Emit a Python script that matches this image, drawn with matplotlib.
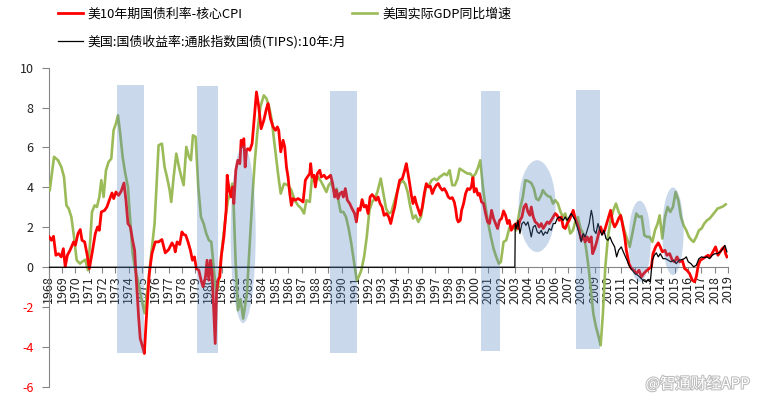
import matplotlib
matplotlib.use('Agg')
from matplotlib import pyplot as plt
from matplotlib.patches import Rectangle, Ellipse
from matplotlib.lines import Line2D
import matplotlib.patheffects as pe

plt.rcParams['font.family'] = ['Noto Sans CJK SC', 'DejaVu Sans']

# 美10年期国债利率-核心CPI
red_years = [1968.04, 1968.2, 1968.36, 1968.54, 1968.74, 1968.94, 1969.1, 1969.24, 1969.4, 1969.6,
             1969.87, 1970.0, 1970.2, 1970.37, 1970.5, 1970.7, 1970.87, 1971.05, 1971.25, 1971.5,
             1971.67, 1971.8, 1971.95, 1972.2, 1972.37, 1972.55, 1972.75, 1972.88, 1973.05, 1973.25,
             1973.45, 1973.65, 1973.8, 1973.95, 1974.13, 1974.3, 1974.45, 1974.55, 1974.75, 1974.87,
             1975.05, 1975.18, 1975.38, 1975.55, 1975.75, 1976.0, 1976.25, 1976.5, 1976.75, 1977.0,
             1977.26, 1977.43, 1977.5, 1977.64, 1977.84, 1978.0, 1978.12, 1978.29, 1978.46, 1978.64,
             1978.79, 1978.94, 1979.09, 1979.27, 1979.44, 1979.59, 1979.77, 1979.89, 1980.02, 1980.15,
             1980.27, 1980.4, 1980.5, 1980.6, 1980.7, 1980.85, 1980.95, 1981.15, 1981.32, 1981.4,
             1981.55, 1981.7, 1981.8, 1981.9, 1982.05, 1982.2, 1982.35, 1982.45, 1982.55, 1982.65,
             1982.75, 1982.85, 1982.95, 1983.1, 1983.27, 1983.4, 1983.6, 1983.77, 1983.95, 1984.15,
             1984.35, 1984.47, 1984.65, 1984.85, 1985.03, 1985.17, 1985.27, 1985.42, 1985.6, 1985.72,
             1985.85, 1985.97, 1986.1, 1986.22, 1986.35, 1986.52, 1986.72, 1986.92, 1987.1, 1987.27,
             1987.42, 1987.6, 1987.67, 1987.77, 1987.92, 1988.02, 1988.17, 1988.35, 1988.47, 1988.67,
             1988.85, 1989.02, 1989.17, 1989.32, 1989.47, 1989.6, 1989.72, 1989.87, 1990.02, 1990.12,
             1990.27, 1990.42, 1990.6, 1990.77, 1990.97, 1991.1, 1991.23, 1991.38, 1991.53, 1991.68,
             1991.83, 1991.98, 1992.13, 1992.28, 1992.43, 1992.58, 1992.73, 1992.88, 1993.03, 1993.18,
             1993.35, 1993.53, 1993.68, 1993.85, 1993.98, 1994.15, 1994.35, 1994.55, 1994.73, 1994.85,
             1994.98, 1995.1, 1995.23, 1995.35, 1995.48, 1995.6, 1995.73, 1995.9, 1996.05, 1996.2,
             1996.35, 1996.5, 1996.65, 1996.8, 1996.95, 1997.1, 1997.25, 1997.4, 1997.55, 1997.7,
             1997.85, 1998.0, 1998.15, 1998.3, 1998.45, 1998.55, 1998.65, 1998.75, 1998.9, 1999.0,
             1999.15, 1999.3, 1999.45, 1999.6, 1999.73, 1999.85, 1999.95, 2000.1, 2000.23, 2000.35,
             2000.5, 2000.65, 2000.8, 2000.95, 2001.1, 2001.25, 2001.4, 2001.55, 2001.7, 2001.85,
             2002.0, 2002.15, 2002.3, 2002.45, 2002.58, 2002.73, 2002.93, 2003.1, 2003.23, 2003.38,
             2003.53, 2003.68, 2003.83, 2003.98, 2004.13, 2004.23, 2004.38, 2004.53, 2004.68, 2004.83,
             2004.98, 2005.13, 2005.28, 2005.43, 2005.58, 2005.73, 2005.88, 2006.03, 2006.18, 2006.33,
             2006.48, 2006.63, 2006.78, 2006.93, 2007.08, 2007.23, 2007.38, 2007.53, 2007.68, 2007.83,
             2007.98, 2008.13, 2008.28, 2008.43, 2008.58, 2008.73, 2008.84, 2008.99, 2009.14, 2009.29,
             2009.44, 2009.59, 2009.74, 2009.89, 2010.04, 2010.19, 2010.34, 2010.49, 2010.64, 2010.79,
             2010.94, 2011.07, 2011.25, 2011.37, 2011.57, 2011.75, 2011.92, 2012.12, 2012.32, 2012.5,
             2012.67, 2012.87, 2013.07, 2013.25, 2013.37, 2013.57, 2013.77, 2013.92, 2014.07, 2014.27,
             2014.42, 2014.62, 2014.82, 2015.0, 2015.17, 2015.37, 2015.57, 2015.75, 2015.92, 2016.12,
             2016.32, 2016.5, 2016.62, 2016.77, 2016.92, 2017.12, 2017.32, 2017.5, 2017.67, 2017.87,
             2018.07, 2018.25, 2018.42, 2018.57, 2018.72, 2018.82, 2018.92]
red_values = [1.52, 1.35, 1.55, 0.6, 0.68, 0.52, 0.93, 0.02, 0.6, 0.85,
              1.27, 1.1, 1.69, 1.89, 1.35, 1.27, 0.68, -0.07, 0.68, 1.69,
              2.02, 1.85, 2.77, 2.85, 3.02, 3.36, 3.72, 3.44, 3.77, 3.6,
              3.82, 4.22, 3.36, 2.19, 2.02, 1.35, 0.85, -0.32, -2.49, -3.57,
              -3.99, -4.32, -1.99, -0.32, 0.68, 1.27, 1.27, 1.39, 0.72, 0.88,
              1.22, 1.02, 0.77, 1.27, 1.14, 1.77, 1.65, 1.6, 1.27, 0.85,
              0.35, 0.52, -0.07, -0.15, -0.65, -0.98, -0.48, 0.35, -0.65, 0.35,
              -0.32, -2.32, -3.82, -1.32, -0.65, -0.48, 0.52, 1.52, 2.85, 4.61,
              3.86, 3.52, 4.02, 3.19, 4.86, 5.36, 5.19, 6.36, 6.03, 6.44,
              5.02, 5.86, 5.94, 5.86, 6.19, 7.2, 8.78, 8.03, 6.94, 7.36,
              7.95, 8.2, 7.45, 7.03, 6.86, 7.03, 6.86, 5.78, 6.36, 6.03,
              5.02, 4.52, 3.69, 3.1, 3.44, 3.36, 3.44, 3.36, 3.27, 4.36,
              4.52, 4.69, 5.19, 4.52, 4.61, 4.02, 4.69, 4.86, 4.52, 4.61,
              4.44, 4.52, 4.61, 4.19, 3.52, 3.86, 3.44, 3.69, 3.77, 3.52,
              3.94, 3.36, 3.19, 2.94, 2.69, 2.27, 2.94, 2.85, 3.39, 3.02,
              3.1, 2.69, 3.52, 3.64, 3.52, 3.36, 3.52, 3.19, 3.02, 2.6,
              2.69, 2.52, 2.19, 2.69, 3.02, 3.69, 4.36, 4.44, 4.86, 5.19,
              4.69, 4.19, 3.61, 3.19, 3.52, 3.19, 2.94, 2.6, 3.02, 3.69,
              4.19, 4.02, 4.06, 3.69, 3.94, 4.11, 4.19, 3.99, 3.86, 3.94,
              3.77, 3.52, 3.44, 3.49, 3.27, 2.94, 2.44, 2.27, 2.35, 2.85,
              3.19, 3.69, 3.94, 3.89, 4.02, 4.49, 3.77, 3.94, 3.61, 3.69,
              3.27, 3.19, 2.69, 2.27, 2.19, 2.85, 2.44, 2.19, 1.94, 2.35,
              2.44, 2.82, 2.6, 2.19, 2.35, 1.85, 2.1, 2.19, 1.94, 2.35,
              2.52, 3.02, 3.16, 2.77, 2.6, 3.02, 2.52, 2.27, 2.19, 2.02,
              2.19, 1.94, 2.1, 2.27, 2.19, 2.35, 2.52, 2.69, 2.6, 2.35,
              2.52, 2.02, 1.94, 2.19, 2.35, 2.6, 2.85, 2.44, 2.19, 1.85,
              1.35, 1.6, 1.27, 1.52, 1.27, 1.52, 0.68, 0.93, 1.27, 1.69,
              2.02, 1.69, 1.85, 2.19, 2.52, 2.85, 2.27, 2.02, 2.19, 2.44,
              2.6, 2.19, 1.52, 0.85, 0.18, -0.07, -0.15, -0.32, -0.15, -0.48,
              -0.32, -0.18, -0.07, 0.02, 0.68, 1.02, 1.22, 1.02, 0.77, 0.85,
              0.6, 0.68, 0.35, 0.27, 0.52, 0.27, 0.35, -0.07, -0.15, -0.32,
              -0.65, -0.73, -0.48, 0.1, 0.35, 0.43, 0.52, 0.6, 0.52, 0.77,
              1.02, 0.6, 0.77, 0.93, 1.02, 0.68, 0.52]

# 美国实际GDP同比增速
gdp_years = [1968.08, 1968.4, 1968.7, 1968.95, 1969.15, 1969.33, 1969.5, 1969.7, 1969.9, 1970.1,
             1970.35, 1970.5, 1970.75, 1970.95, 1971.12, 1971.25, 1971.45, 1971.62, 1971.8, 1971.95,
             1972.12, 1972.3, 1972.5, 1972.7, 1972.87, 1973.05, 1973.2, 1973.37, 1973.55, 1973.75,
             1973.95, 1974.12, 1974.3, 1974.5, 1974.7, 1974.88, 1975.2, 1975.4, 1975.55, 1975.7,
             1975.95, 1976.25, 1976.5, 1976.7, 1976.88, 1977.08, 1977.2, 1977.38, 1977.58, 1977.78,
             1977.96, 1978.13, 1978.33, 1978.53, 1978.68, 1978.83, 1979.03, 1979.23, 1979.43, 1979.63,
             1979.83, 1980.03, 1980.21, 1980.38, 1980.58, 1980.71, 1980.88, 1981.08, 1981.28, 1981.46,
             1981.63, 1981.78, 1981.88, 1982.03, 1982.21, 1982.4, 1982.6, 1982.88, 1983.08, 1983.28,
             1983.48, 1983.68, 1983.89, 1984.15, 1984.35, 1984.55, 1984.75, 1984.92, 1985.1, 1985.25,
             1985.42, 1985.67, 1985.97, 1986.22, 1986.47, 1986.72, 1986.97, 1987.17, 1987.35, 1987.6,
             1987.77, 1987.97, 1988.22, 1988.47, 1988.72, 1988.85, 1989.02, 1989.22, 1989.42, 1989.62,
             1989.77, 1989.92, 1990.12, 1990.32, 1990.52, 1990.72, 1990.92, 1991.13, 1991.28, 1991.47,
             1991.68, 1991.88, 1992.08, 1992.28, 1992.48, 1992.68, 1992.93, 1993.13, 1993.33, 1993.53,
             1993.73, 1993.98, 1994.35, 1994.55, 1994.75, 1994.95, 1995.15, 1995.35, 1995.55, 1995.75,
             1995.95, 1996.15, 1996.35, 1996.55, 1996.75, 1996.95, 1997.15, 1997.35, 1997.55, 1997.7,
             1997.9, 1998.1, 1998.3, 1998.5, 1998.7, 1998.85, 1999.05, 1999.25, 1999.45, 1999.65,
             1999.85, 2000.05, 2000.25, 2000.4, 2000.6, 2000.8, 2001.0, 2001.2, 2001.4, 2001.6,
             2001.8, 2001.95, 2002.15, 2002.35, 2002.6, 2002.85, 2003.1, 2003.36, 2003.6, 2003.78,
             2003.98, 2004.23, 2004.43, 2004.6, 2004.78, 2004.98, 2005.1, 2005.28, 2005.48, 2005.68,
             2005.86, 2006.03, 2006.23, 2006.43, 2006.61, 2006.78, 2006.98, 2007.16, 2007.36, 2007.53,
             2007.73, 2007.93, 2008.13, 2008.33, 2008.53, 2008.74, 2008.89, 2009.09, 2009.29, 2009.44,
             2009.61, 2009.79, 2009.99, 2010.19, 2010.39, 2010.59, 2010.79, 2010.99, 2011.12, 2011.37,
             2011.62, 2011.87, 2012.12, 2012.32, 2012.52, 2012.72, 2012.92, 2013.12, 2013.32, 2013.52,
             2013.72, 2013.87, 2014.07, 2014.27, 2014.47, 2014.67, 2014.87, 2015.07, 2015.27, 2015.47,
             2015.67, 2015.87, 2016.07, 2016.27, 2016.42, 2016.62, 2016.82, 2017.02, 2017.22, 2017.42,
             2017.62, 2017.82, 2018.02, 2018.22, 2018.43, 2018.63, 2018.83]
gdp_values = [3.86, 5.53, 5.36, 5.02, 4.52, 3.1, 2.94, 2.52, 1.52, 0.35,
              0.18, 0.27, 0.38, -0.15, 1.35, 2.77, 3.1, 3.02, 3.52, 4.36,
              3.52, 4.86, 5.28, 5.44, 6.86, 7.2, 7.61, 6.69, 5.53, 4.69,
              4.02, 2.35, 0.68, -0.15, -0.65, -1.32, -2.3, -1.2, -0.3, 0.68,
              2.19, 6.11, 6.19, 5.02, 4.52, 3.86, 3.27, 4.52, 5.69, 5.02,
              4.52, 4.11, 6.03, 5.53, 5.36, 6.61, 6.53, 4.02, 2.52, 2.19,
              1.69, 1.35, 1.27, 0.02, -1.32, -0.98, 0.02, 1.35, 2.52, 3.36,
              3.69, 4.19, 3.19, 0.35, -2.15, -1.6, -2.57, -1.32, 1.02, 3.36,
              5.36, 6.86, 8.03, 8.61, 8.45, 8.03, 7.36, 6.36, 5.36, 4.52,
              3.69, 4.19, 4.11, 3.86, 3.36, 3.1, 2.94, 2.69, 3.36, 3.27,
              4.52, 4.27, 4.52, 4.27, 3.94, 3.77, 4.11, 4.27, 3.77, 3.94,
              3.27, 2.77, 2.77, 2.52, 1.94, 1.19, 0.27, -0.65, -0.48, -0.15,
              0.52, 1.52, 2.85, 3.27, 3.44, 3.77, 4.44, 3.69, 2.94, 2.69,
              2.77, 3.36, 4.19, 4.36, 4.19, 3.77, 3.02, 2.44, 2.6, 2.27,
              2.52, 3.36, 4.11, 4.11, 4.36, 4.44, 4.36, 4.52, 4.61, 4.69,
              4.61, 4.86, 4.11, 4.11, 4.44, 4.94, 4.86, 4.77, 4.69, 4.69,
              4.52, 4.69, 5.02, 5.36, 4.02, 3.02, 2.19, 1.52, 0.93, 0.52,
              0.18, 0.27, 1.27, 1.35, 2.0, 2.02, 1.85, 2.85, 3.52, 4.36,
              4.32, 4.22, 3.94, 3.44, 3.36, 3.61, 3.86, 3.69, 3.56, 3.52,
              3.19, 3.36, 3.19, 2.77, 2.52, 2.69, 2.19, 1.69, 1.85, 2.27,
              2.52, 1.94, 1.69, 1.02, 0.02, -1.32, -2.32, -2.99, -3.49, -3.91,
              -2.32, 0.02, 1.52, 2.35, 2.85, 3.19, 2.77, 2.52, 2.1, 1.52,
              1.02, 1.85, 2.69, 2.52, 2.55, 1.6, 1.52, 1.52, 1.27, 1.85,
              2.19, 2.6, 1.44, 2.52, 3.02, 2.77, 3.02, 3.77, 3.36, 2.52,
              2.1, 1.85, 1.52, 1.35, 1.27, 1.52, 1.85, 1.94, 2.19, 2.35,
              2.44, 2.6, 2.77, 2.94, 2.99, 3.05, 3.15]

# 美国:国债收益率:通胀指数国债(TIPS):10年:月 (0 before 2003)
tips_years = [1968.0, 2003.0, 2003.03, 2003.13, 2003.23, 2003.38, 2003.53, 2003.68, 2003.83, 2003.98,
              2004.13, 2004.23, 2004.38, 2004.53, 2004.68, 2004.83, 2004.98, 2005.13, 2005.28, 2005.43,
              2005.58, 2005.73, 2005.88, 2006.03, 2006.18, 2006.33, 2006.48, 2006.63, 2006.78, 2006.93,
              2007.08, 2007.23, 2007.38, 2007.53, 2007.68, 2007.83, 2007.98, 2008.13, 2008.28, 2008.43,
              2008.58, 2008.74, 2008.84, 2008.94, 2009.09, 2009.24, 2009.39, 2009.54, 2009.69, 2009.84,
              2009.99, 2010.14, 2010.29, 2010.49, 2010.64, 2010.79, 2010.99, 2011.14, 2011.42, 2011.62,
              2011.82, 2012.02, 2012.22, 2012.42, 2012.62, 2012.82, 2013.0, 2013.17, 2013.32, 2013.47,
              2013.62, 2013.77, 2013.92, 2014.12, 2014.32, 2014.52, 2014.72, 2014.92, 2015.12, 2015.32,
              2015.52, 2015.72, 2015.87, 2016.02, 2016.22, 2016.42, 2016.62, 2016.82, 2017.02, 2017.22,
              2017.42, 2017.62, 2017.82, 2018.02, 2018.22, 2018.42, 2018.62, 2018.77, 2018.92]
tips_values = [0, 0, 2.19, 1.94, 2.35, 1.69, 2.19, 2.27, 2.1, 2.27,
               1.85, 1.52, 2.02, 2.1, 1.77, 1.69, 1.85, 1.6, 1.77, 1.69,
               1.94, 1.85, 2.19, 2.19, 2.44, 2.52, 2.44, 2.35, 2.52, 2.35,
               2.52, 2.69, 2.52, 2.35, 2.02, 1.69, 1.27, 1.69, 1.52, 1.85,
               2.19, 2.85, 2.52, 1.85, 1.69, 2.19, 1.85, 1.6, 1.85, 1.44,
               1.35, 1.52, 1.27, 1.02, 0.52, 0.85, 1.02, 0.77, 0.35, 0.02,
               -0.15, -0.32, -0.4, -0.52, -0.65, -0.73, -0.65, -0.73, 0.35, 0.6,
               0.72, 0.52, 0.68, 0.43, 0.43, 0.35, 0.27, 0.35, 0.18, 0.35,
               0.38, 0.43, 0.52, 0.27, 0.18, 0.02, 0.1, 0.43, 0.52, 0.48,
               0.52, 0.43, 0.6, 0.68, 0.68, 0.77, 0.93, 1.1, 0.77]

# shaded recession bars: (start, end, bottom, top)
bars = [(1973.1, 1975.13, -4.31, 9.12),
        (1979.11, 1980.69, -4.31, 9.09),
        (1989.1, 1991.18, -4.29, 8.82),
        (2000.43, 2001.88, -4.21, 8.82),
        (2007.56, 2009.42, -4.11, 8.87)]
# highlighted ellipses: (center year, center value, width, height)
ovals = [(1982.6, 1.65, 1.88, 8.9),
         (2004.67, 3.06, 2.78, 4.6),
         (2012.37, 1.3, 1.67, 4.06),
         (2014.87, 1.8, 1.6, 4.39)]

years = list(range(1968, 2020))

fig = plt.figure(figsize=(7.61, 3.98), dpi=100)
ax = fig.add_axes([0.064, 0.0276, 0.8926, 0.8025])

ax.plot(gdp_years, gdp_values, color='#9BBB59', lw=1.9, zorder=3)
ax.plot(red_years, red_values, color='#FF0000', lw=2.0, zorder=4)
ax.plot(tips_years, tips_values, color='black', lw=0.9, zorder=5)

for x0, x1, y0, y1 in bars:
    ax.add_patch(Rectangle((x0, y0), x1 - x0, y1 - y0, facecolor='#4F81BD',
                           alpha=0.3, edgecolor='none', zorder=6))
for cx, cy, w, h in ovals:
    ax.add_patch(Ellipse((cx, cy), w, h, facecolor='#4F81BD', alpha=0.3,
                         edgecolor='none', zorder=6))

ax.set_xlim(1968, 2019.0)
ax.set_ylim(-6, 10)

for s in ['top', 'right']:
    ax.spines[s].set_visible(False)
ax.spines['left'].set_color('#868686')
ax.spines['bottom'].set_color('#868686')
ax.spines['bottom'].set_position(('data', 0))
ax.spines['bottom'].set_zorder(2)

ax.set_xticks(years)
ax.set_xticklabels([str(y) for y in years], rotation=90, fontsize=9, color='#222222')
ax.set_yticks(range(-6, 11, 2))
ax.set_yticklabels([str(v) for v in range(-6, 11, 2)], fontsize=9)
for lab, v in zip(ax.get_yticklabels(), range(-6, 11, 2)):
    lab.set_color('#FF0000' if v < 0 else '#222222')
ax.tick_params(axis='x', direction='out', length=4, color='#868686', pad=2)
ax.tick_params(axis='y', direction='out', length=5, color='#868686', pad=6)

handles = [Line2D([], [], color='#FF0000', lw=2.0),
           Line2D([], [], color='black', lw=0.9),
           Line2D([], [], color='#9BBB59', lw=1.9)]
labels = ['美10年期国债利率-核心CPI',
          '美国:国债收益率:通胀指数国债(TIPS):10年:月',
          '美国实际GDP同比增速']
fig.legend(handles, labels, ncol=2, loc='upper left', bbox_to_anchor=(58 / 761, 1 - 8 / 398),
           frameon=False, fontsize=9.3, borderpad=0, borderaxespad=0, handlelength=1.95,
           handletextpad=0.35, columnspacing=0.45, labelspacing=1.05)

fig.text(0.985, 0.035, '@智通财经APP', ha='right', va='center', fontsize=11, color='white',
         path_effects=[pe.withStroke(linewidth=1.5, foreground='#bdbdbd')])

plt.savefig('out.png', dpi=100)
